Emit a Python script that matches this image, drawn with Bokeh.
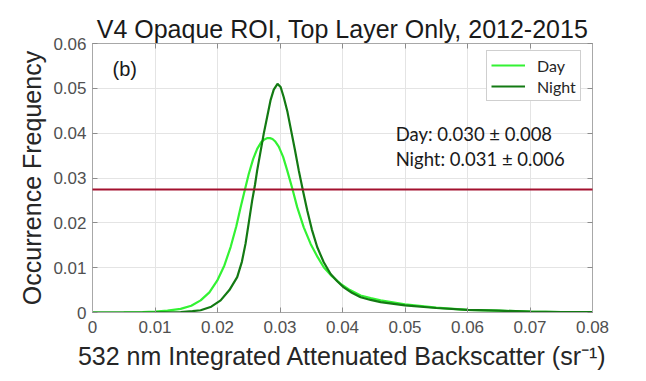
from bokeh.plotting import figure
from bokeh.models import (LinearAxis, Legend, LegendItem, Label, Arrow,
                          FixedTicker, Range1d, CustomLabelingPolicy)
from bokeh.embed import file_html
from bokeh.resources import INLINE

# Axis ticks and labels
x_ticks = [0, 0.01, 0.02, 0.03, 0.04, 0.05, 0.06, 0.07, 0.08]
x_tick_labels = ["0", "0.01", "0.02", "0.03", "0.04", "0.05", "0.06", "0.07", "0.08"]
y_ticks = [0, 0.01, 0.02, 0.03, 0.04, 0.05, 0.06]
y_tick_labels = ["0", "0.01", "0.02", "0.03", "0.04", "0.05", "0.06"]

# Occurrence frequency of 532 nm integrated attenuated backscatter
day_x = [0.0, 0.005, 0.008, 0.010, 0.012, 0.0141, 0.0158, 0.0173, 0.0187, 0.01995,
         0.0211, 0.0221, 0.0230, 0.0237, 0.0244, 0.0250, 0.0257, 0.02635, 0.0270,
         0.0275, 0.0280, 0.0284, 0.0288, 0.0292, 0.0298, 0.0305, 0.03115, 0.0320,
         0.03275, 0.0338, 0.0349, 0.0360, 0.0370, 0.0383, 0.0397, 0.0412, 0.0429,
         0.0445, 0.0461, 0.050, 0.055, 0.060, 0.065, 0.070, 0.075, 0.080]
day_y = [0.0, 0.00002, 0.0001, 0.0002, 0.0004, 0.0008, 0.0015, 0.0027, 0.0045, 0.0071,
         0.0105, 0.0146, 0.0192, 0.0235, 0.0275, 0.0309, 0.0342, 0.0365, 0.0380,
         0.0386, 0.0389, 0.0389, 0.0387, 0.0382, 0.0370, 0.0347, 0.0317, 0.0275,
         0.0235, 0.0190, 0.0153, 0.0124, 0.0101, 0.0081, 0.0064, 0.0050, 0.0038,
         0.0032, 0.0027, 0.0018, 0.0011, 0.0006, 0.0004, 0.0002, 0.0001, 0.0001]

night_x = [0.0, 0.005, 0.010, 0.0141, 0.0160, 0.0173, 0.0190, 0.0205, 0.0219, 0.02315,
           0.0239, 0.02448, 0.0250, 0.02555, 0.0260, 0.02635, 0.0269, 0.0274, 0.0280,
           0.02848, 0.0290, 0.0296, 0.0301, 0.0306, 0.0312, 0.03168, 0.0324, 0.0330,
           0.0337, 0.03435, 0.0351, 0.03595, 0.0370, 0.0381, 0.0392, 0.0402, 0.0415,
           0.0429, 0.0445, 0.0461, 0.050, 0.055, 0.060, 0.065, 0.070, 0.075, 0.080]
night_y = [0.0, 0.0, 0.00003, 0.0001, 0.0003, 0.0005, 0.0013, 0.0027, 0.0050, 0.0079,
           0.0113, 0.0153, 0.0200, 0.0250, 0.0285, 0.0317, 0.0360, 0.0399, 0.0440,
           0.0473, 0.0497, 0.0510, 0.0503, 0.0480, 0.0447, 0.0413, 0.0362, 0.0317,
           0.0270, 0.0228, 0.0185, 0.0146, 0.0112, 0.0086, 0.0069, 0.0056, 0.0044,
           0.0034, 0.0028, 0.0023, 0.0016, 0.0010, 0.0006, 0.0004, 0.0002, 0.0001, 0.0001]

DAY_COLOR = "#33f233"
NIGHT_COLOR = "#137a13"
FRAME_COLOR = "#a8a8a8"
SANS = "Liberation Sans"

p = figure(width=646, height=381,
           x_range=Range1d(0, 0.08), y_range=Range1d(0, 0.06),
           output_backend="svg", toolbar_location=None,
           min_border_left=92, min_border_right=54,
           min_border_top=43, min_border_bottom=69,
           x_axis_location=None, y_axis_location=None)
p.background_fill_color = "white"
p.border_fill_color = "white"
p.outline_line_color = FRAME_COLOR
p.outline_line_width = 1

p.title.text = "V4 Opaque ROI, Top Layer Only, 2012-2015"
p.title.align = "center"
p.title.text_font = SANS
p.title.text_font_size = "25px"
p.title.text_font_style = "normal"
p.title.text_color = "#1a1a1a"
p.title.standoff = 2

xticker = FixedTicker(ticks=x_ticks)
yticker = FixedTicker(ticks=y_ticks)

# the mirrored top/right axes only carry tick marks
no_labels = CustomLabelingPolicy(code="""
for (let i = 0; i < indices.size; i++) indices.unset(i)
return indices
""")


def style_axis(ax, show_labels):
    ax.major_tick_in = 5
    ax.major_tick_out = 0
    ax.minor_tick_line_color = None
    ax.axis_line_color = FRAME_COLOR
    ax.major_tick_line_color = "#8c8c8c"
    if show_labels:
        ax.major_label_text_font = SANS
        ax.major_label_text_font_size = "17px"
        ax.major_label_text_color = "#505050"
        ax.axis_label_text_font = SANS
        ax.axis_label_text_font_size = "25px"
        ax.axis_label_text_font_style = "normal"
        ax.axis_label_text_color = "#262626"
    else:
        ax.major_label_policy = no_labels
        ax.major_label_text_font_size = "0px"
        ax.major_label_standoff = 0


xaxis = LinearAxis(ticker=xticker,
                   major_label_overrides=dict(zip(x_ticks, x_tick_labels)),
                   axis_label="532 nm Integrated Attenuated Backscatter (sr\u207b\u00b9)")
style_axis(xaxis, True)
xaxis.major_label_standoff = 8
xaxis.axis_label_standoff = 6
p.add_layout(xaxis, "below")

yaxis = LinearAxis(ticker=yticker,
                   major_label_overrides=dict(zip(y_ticks, y_tick_labels)),
                   axis_label="Occurrence Frequency")
style_axis(yaxis, True)
yaxis.major_label_standoff = 6
yaxis.axis_label_standoff = 4
p.add_layout(yaxis, "left")

top_axis = LinearAxis(ticker=xticker)
style_axis(top_axis, False)
p.add_layout(top_axis, "above")

right_axis = LinearAxis(ticker=yticker)
style_axis(right_axis, False)
p.add_layout(right_axis, "right")

p.xgrid.ticker = xticker
p.ygrid.ticker = yticker
p.xgrid.grid_line_color = "#e4e4e4"
p.ygrid.grid_line_color = "#e4e4e4"

r_day = p.line(day_x, day_y, line_color=DAY_COLOR, line_width=2.2)
r_night = p.line(night_x, night_y, line_color=NIGHT_COLOR, line_width=2.2)

legend = Legend(items=[LegendItem(label="Day", renderers=[r_day]),
                       LegendItem(label="Night", renderers=[r_night])],
                location=(394, 211))
legend.label_text_font = "Lato"
legend.label_text_font_size = "16px"
legend.label_text_color = "#262626"
legend.glyph_width = 34
legend.glyph_height = 20
legend.label_height = 20
legend.label_width = 10
legend.label_standoff = 12
legend.padding = 4
legend.spacing = 1
legend.margin = 0
legend.border_line_color = "#a0a0a0"
legend.background_fill_alpha = 1
p.add_layout(legend)

p.add_layout(Label(x=0.0032, y=0.0544, text="(b)", text_baseline="middle",
                   text_font=SANS, text_font_size="20px", text_color="#1a1a1a"))
p.add_layout(Label(x=0.0485, y=0.0399, text="Day: 0.030 \u00b1 0.008",
                   text_baseline="middle", text_font="Lato",
                   text_font_size="18.5px", text_color="#1a1a1a"))
p.add_layout(Label(x=0.0485, y=0.0343, text="Night: 0.031 \u00b1 0.006",
                   text_baseline="middle", text_font="Lato",
                   text_font_size="18.5px", text_color="#1a1a1a"))

# Horizontal marker rule
p.add_layout(Arrow(x_start=8, x_end=618, y_start=189, y_end=189,
                   start_units="canvas", end_units="canvas",
                   start=None, end=None, line_color="#a3102e", line_width=2,
                   level="overlay"))

open("out.html", "w").write(file_html(p, INLINE))
